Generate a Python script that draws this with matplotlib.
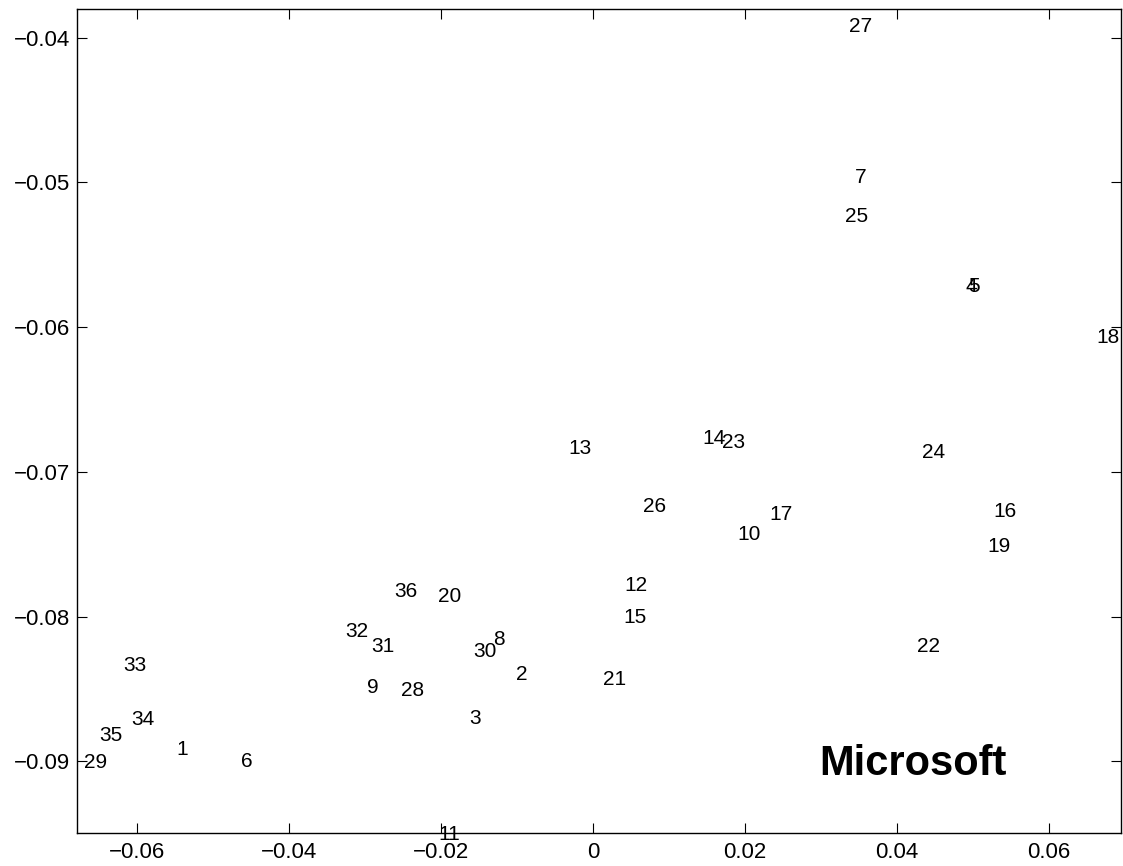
import matplotlib
matplotlib.use("Agg")
import matplotlib.pyplot as plt
from matplotlib import transforms

plt.rcParams['font.family'] = ['Liberation Sans', 'DejaVu Sans']
plt.rcParams['axes.unicode_minus'] = True

# Point labels and their 2-D coordinates
labels = [str(i) for i in range(1, 37)]
x_vals = [-0.05487, -0.01017, -0.01632, 0.0490, 0.0494, -0.04632, 0.03447, -0.01312,
          -0.0297, 0.01901, -0.02036, 0.00408, -0.00329, 0.01447, 0.00399, 0.05276,
          0.02316, 0.06628, 0.05197, -0.02043, 0.00128, 0.04267, 0.01701, 0.04333,
          0.03316, 0.00662, 0.03372, -0.0253, -0.06697, -0.01575, -0.02912, -0.03254,
          -0.06188, -0.06070, -0.06500, -0.02614]
y_vals = [-0.08907, -0.08384, -0.08689, -0.05704, -0.05704, -0.0899, -0.0495, -0.08145,
          -0.08475, -0.07422, -0.0949, -0.07771, -0.06827, -0.06758, -0.07993, -0.07258,
          -0.07281, -0.0606, -0.0750, -0.07851, -0.0842, -0.08195, -0.06782, -0.06855,
          -0.0522, -0.07228, -0.0391, -0.08496, -0.08997, -0.08226, -0.08196, -0.08093,
          -0.08323, -0.08701, -0.08807, -0.07817]

title_text = "Microsoft"
title_pos = (0.02974, -0.09095)

x_ticks = [-0.06, -0.04, -0.02, 0, 0.02, 0.04, 0.06]
x_tick_labels = ["\u22120.06", "\u22120.04", "\u22120.02", "0", "0.02", "0.04", "0.06"]
y_ticks = [-0.09, -0.08, -0.07, -0.06, -0.05, -0.04]
y_tick_labels = ["\u22120.09", "\u22120.08", "\u22120.07", "\u22120.06", "\u22120.05", "\u22120.04"]

fig = plt.figure(figsize=(11.23, 8.66), dpi=100)
ax = fig.add_axes([0.0686, 0.0381, 0.9296, 0.9515])
ax.set_xlim(-0.0679, 0.0695)
ax.set_ylim(-0.09496, -0.03802)

label_size = 15
# shift baseline down by half the digit height so labels are centred on their y value
trans = transforms.offset_copy(ax.transData, fig=fig, x=0, y=-0.716 * label_size / 2, units='points')
for lab, xv, yv in zip(labels, x_vals, y_vals):
    ax.text(xv, yv, lab, transform=trans, ha='left', va='baseline',
            fontsize=label_size, color='black', zorder=2, clip_on=False)

ax.text(title_pos[0], title_pos[1], title_text, ha='left', va='baseline',
        fontsize=30, fontweight='bold', color='black')

ax.set_xticks(x_ticks)
ax.set_xticklabels(x_tick_labels)
ax.set_yticks(y_ticks)
ax.set_yticklabels(y_tick_labels)
ax.tick_params(direction='in', length=7.2, width=0.8, top=True, right=True,
               labelsize=16, colors='black')
ax.tick_params(axis='x', pad=6.5)
ax.tick_params(axis='y', pad=5)
for sp in ax.spines.values():
    sp.set_linewidth(1.0)
    sp.set_color('black')

fig.savefig("out.png", dpi=100, facecolor='white')
